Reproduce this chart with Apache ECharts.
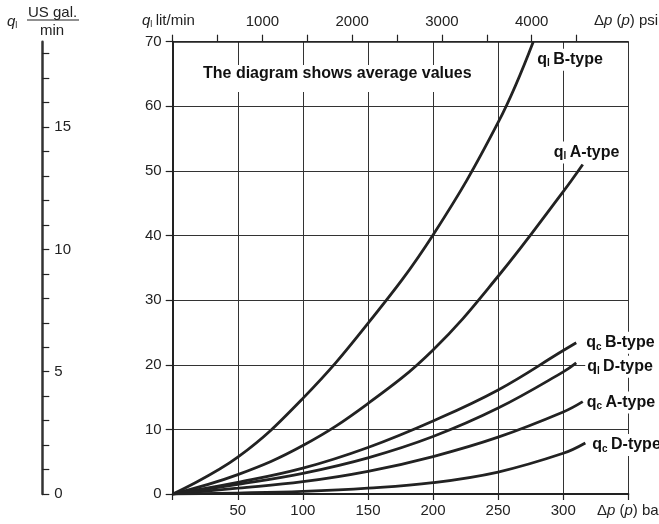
<!DOCTYPE html>
<html>
<head>
<meta charset="utf-8">
<script src="https://cdn.jsdelivr.net/npm/echarts@6/dist/echarts.min.js"></script>
<style>
  html, body { margin: 0; padding: 0; background: #fff; }
  #chart { width: 659px; height: 524px; }
</style>
</head>
<body>
<div id="chart"></div>
<script>
// pressure points (bar) and flow values (lit/min) per curve
var barLB = [0, 50, 100, 150, 200, 250, 277];
var qlB   = [0, 5.7, 14.8, 26.4, 40.1, 57.5, 70];
var barLA = [0, 50, 100, 150, 200, 250, 300, 315];
var qlA   = [0, 3.0, 7.5, 14.0, 22.3, 33.7, 46.8, 51];
var barCB = [0, 50, 100, 150, 200, 250, 300, 310];
var qcB   = [0, 1.8, 4.0, 7.2, 11.3, 16.1, 22.2, 23.4];
var barLD = [0, 50, 100, 150, 200, 250, 300, 310];
var qlD   = [0, 1.5, 3.2, 5.6, 8.9, 13.3, 18.9, 20.3];
var barCA = [0, 50, 100, 150, 200, 250, 300, 315];
var qcA   = [0, 0.9, 1.9, 3.5, 5.8, 8.8, 12.7, 14.3];
var barCD = [0, 50, 100, 150, 200, 250, 300, 317];
var qcD   = [0, 0.15, 0.4, 0.9, 1.75, 3.4, 6.3, 7.9];

// axis ticks
var psiTicks  = [0, 500, 1000, 1500, 2000, 2500, 3000, 3500, 4000, 4500];
var psiLabels = [1000, 2000, 3000, 4000];
var galTicks  = [0, 1, 2, 3, 4, 5, 6, 7, 8, 9, 10, 11, 12, 13, 14, 15, 16, 17, 18];
var galLabels = [0, 5, 10, 15];

var barMax = 350, lpmMax = 70;
var psiMax = barMax * 14.5037738;      // same span as the bar axis
var galMax = lpmMax / 3.785411784;     // same span as the lit/min axis

var font = 'Liberation Sans, Arial, sans-serif';
var ink = '#222';

function zip(xs, ys) {
    var out = [];
    for (var i = 0; i < xs.length; i++) out.push([xs[i], ys[i]]);
    return out;
}

function curve(name, xs, ys, sub, type, off) {
    return {
        name: name,
        type: 'line',
        data: zip(xs, ys),
        smooth: 0.4,
        showSymbol: false,
        symbol: 'none',
        lineStyle: { color: ink, width: 2.8 },
        endLabel: {
            show: true,
            distance: 0,
            offset: off,
            align: 'left',
            verticalAlign: 'middle',
            backgroundColor: '#fff',
            padding: [2, 2, 2, 2],
            formatter: '{m|q}{s|' + sub + '} {m|' + type + '}',
            rich: {
                m: { fontFamily: font, fontSize: 16, fontWeight: 'bold', color: '#111', lineHeight: 18 },
                s: { fontFamily: font, fontSize: 10, fontWeight: 'bold', color: '#111', lineHeight: 18, verticalAlign: 'bottom', padding: [8, 0, 0, 0] }
            }
        },
        z: 3
    };
}

var chart = echarts.init(document.getElementById('chart'), null, { renderer: 'canvas' });

var option = {
    animation: false,
    backgroundColor: '#fff',
    grid: { left: 172.7, right: 30.7, top: 41.7, bottom: 30, containLabel: false },
    xAxis: [{
        type: 'value', position: 'bottom',
        min: 0, max: barMax, interval: 50,
        axisLine: { show: true, lineStyle: { color: ink, width: 2 } },
        axisTick: { show: true, length: 6, lineStyle: { color: ink, width: 1.2 } },
        axisLabel: {
            margin: 9, color: ink, fontFamily: font, fontSize: 15,
            formatter: function (v) { return (v === 0 || v === barMax) ? '' : String(v); }
        },
        splitLine: { show: true, lineStyle: { color: '#333', width: 1 } }
    }, {
        type: 'value', position: 'top',
        min: 0, max: psiMax,
        axisLine: { show: true, onZero: false, lineStyle: { color: ink, width: 1.5 } },
        axisTick: { show: true, length: 7, customValues: psiTicks, lineStyle: { color: ink, width: 1.2 } },
        axisLabel: {
            margin: 12, color: ink, fontFamily: font, fontSize: 15, customValues: psiLabels,
            formatter: function (v) { return String(v); }
        },
        splitLine: { show: false }
    }],
    yAxis: [{
        type: 'value', position: 'left',
        min: 0, max: lpmMax, interval: 10,
        axisLine: { show: true, onZero: false, lineStyle: { color: ink, width: 2 } },
        axisTick: { show: true, length: 7, lineStyle: { color: ink, width: 1.2 } },
        axisLabel: { margin: 11, color: ink, fontFamily: font, fontSize: 15 },
        splitLine: { show: true, lineStyle: { color: '#333', width: 1 } }
    }, {
        type: 'value', position: 'left', offset: 130.4,
        min: 0, max: galMax,
        axisLine: { show: true, onZero: false, lineStyle: { color: '#333', width: 2.5 } },
        axisTick: { show: true, inside: true, length: 7, customValues: galTicks, lineStyle: { color: ink, width: 1.2 } },
        axisLabel: { inside: true, margin: 12, color: ink, fontFamily: font, fontSize: 15, customValues: galLabels },
        splitLine: { show: false }
    }],
    graphic: [{
        type: 'text', left: 197, top: 65, z: 10,
        style: {
            text: 'The diagram shows average values',
            font: 'bold 16px ' + font, fill: '#111',
            backgroundColor: '#fff', padding: [1, 6, 10, 6]
        }
    }, {
        type: 'text', left: 142, top: 13, z: 10,
        style: {
            text: '{i|q}{s|l} {n|lit/min}',
            rich: {
                i: { font: 'italic 15px ' + font, fill: ink, lineHeight: 17 },
                s: { font: '9px ' + font, fill: ink, lineHeight: 17, verticalAlign: 'bottom', padding: [7, 0, 0, 0] },
                n: { font: '15px ' + font, fill: ink, lineHeight: 17 }
            }
        }
    }, {
        type: 'text', left: 594, top: 13, z: 10,
        style: {
            text: '{n|Δ}{i|p}{n| (}{i|p}{n|) psi}',
            rich: {
                i: { font: 'italic 15px ' + font, fill: ink, lineHeight: 17 },
                n: { font: '15px ' + font, fill: ink, lineHeight: 17 }
            }
        }
    }, {
        type: 'text', left: 597, top: 503, z: 10,
        style: {
            text: '{n|Δ}{i|p}{n| (}{i|p}{n|) bar}',
            rich: {
                i: { font: 'italic 15px ' + font, fill: ink, lineHeight: 17 },
                n: { font: '15px ' + font, fill: ink, lineHeight: 17 }
            }
        }
    }, {
        type: 'text', left: 7, top: 14, z: 10,
        style: {
            text: '{i|q}{s|l}',
            rich: {
                i: { font: 'italic 15px ' + font, fill: ink, lineHeight: 17 },
                s: { font: '9px ' + font, fill: ink, lineHeight: 17, verticalAlign: 'bottom', padding: [7, 0, 0, 0] }
            }
        }
    }, {
        type: 'text', left: 28, top: 5, z: 10,
        style: { text: 'US gal.', font: '15px ' + font, fill: ink }
    }, {
        type: 'line', z: 10,
        shape: { x1: 27, y1: 20, x2: 79, y2: 20 },
        style: { stroke: ink, lineWidth: 1.2 }
    }, {
        type: 'text', left: 40, top: 23, z: 10,
        style: { text: 'min', font: '15px ' + font, fill: ink }
    }],
    series: [
        curve('ql B-type', barLB, qlB, 'l', 'B-type', [2, 18]),
        curve('ql A-type', barLA, qlA, 'l', 'A-type', [-31, -12]),
        curve('qc B-type', barCB, qcB, 'c', 'B-type', [8, 0]),
        curve('ql D-type', barLD, qlD, 'l', 'D-type', [9, 4]),
        curve('qc A-type', barCA, qcA, 'c', 'A-type', [2, 1]),
        curve('qc D-type', barCD, qcD, 'c', 'D-type', [5, 2])
    ]
};

chart.setOption(option);
</script>
</body>
</html>
